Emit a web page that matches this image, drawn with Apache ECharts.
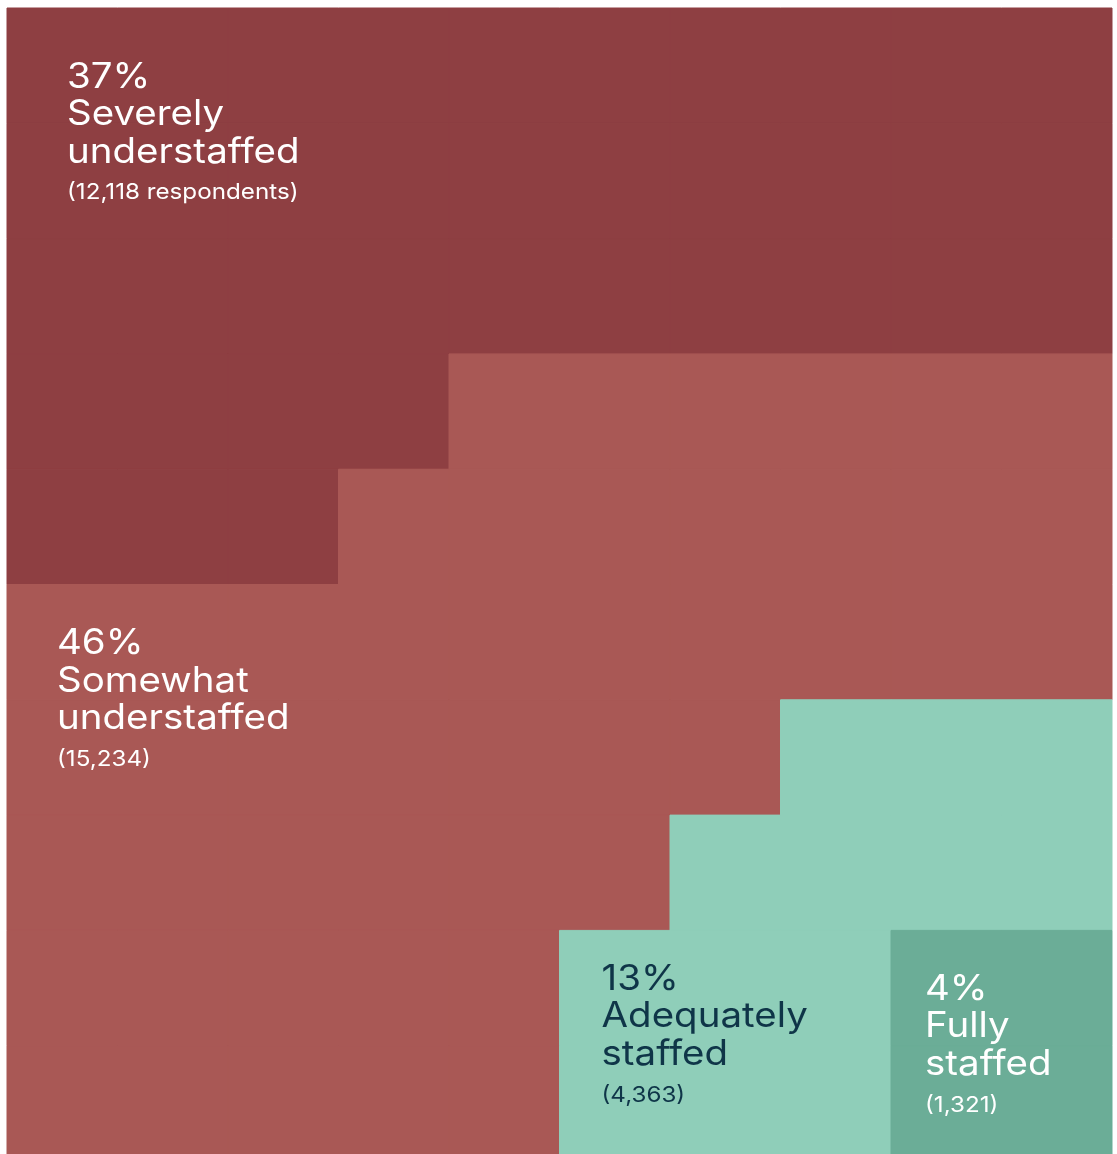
<!DOCTYPE html>
<html>
<head>
<meta charset="utf-8">
<title>Staffing levels</title>
<script src="https://cdn.jsdelivr.net/npm/echarts@6/dist/echarts.min.js"></script>
<style>
  html, body { margin: 0; padding: 0; background: #ffffff; overflow: hidden; }
  /* the bottom row runs slightly past the lower edge of the page */
  #chart { width: 1117px; height: 1161px; }
</style>
</head>
<body>
<div id="chart"></div>
<script>
// Share of respondents by staffing level, drawn as a 10 x 10 unit grid (1 cell = 1%)
const categories  = ['Severely understaffed', 'Somewhat understaffed', 'Adequately staffed', 'Fully staffed'];
const percents    = [37, 46, 13, 4];
const respondents = ['12,118 respondents', '15,234', '4,363', '1,321'];
const labelLines  = [
  ['Severely', 'understaffed'],
  ['Somewhat', 'understaffed'],
  ['Adequately', 'staffed'],
  ['Fully', 'staffed']
];
// Cells per category in each grid row, top to bottom (each row sums to 10, columns sum to percents)
const rowSevere   = [10, 10, 10, 4, 3, 0, 0, 0, 0, 0];
const rowSomewhat = [0, 0, 0, 6, 7, 10, 7, 6, 5, 5];
const rowAdequate = [0, 0, 0, 0, 0, 0, 3, 4, 3, 3];
const rowFully    = [0, 0, 0, 0, 0, 0, 0, 0, 2, 2];

const colors     = ['#8e3f42', '#a95855', '#8fceb9', '#6bad97'];
const textColors = ['#ffffff', '#ffffff', '#0f3548', '#ffffff'];
const GRID = 10;

// Lay each row out left to right, category by category
function buildCells() {
  const rows = [rowSevere, rowSomewhat, rowAdequate, rowFully];
  const cells = categories.map(() => []);
  for (let r = 0; r < GRID; r++) {
    let c = 0;
    rows.forEach((counts, k) => {
      for (let n = 0; n < counts[r]; n++) cells[k].push([c++, r]);
    });
  }
  return cells;
}
const cells = buildCells();

const chart = echarts.init(document.getElementById('chart'), null, { renderer: 'canvas' });

function renderCell(params, api) {
  const c = api.value(0), r = api.value(1);
  const p0 = api.coord([c, r]);
  const p1 = api.coord([c + 1, r + 1]);
  return {
    type: 'rect',
    shape: { x: p0[0], y: p0[1], width: p1[0] - p0[0], height: p1[1] - p0[1] },
    style: { fill: api.visual('color'), stroke: api.visual('color'), lineWidth: 1 }
  };
}

const series = categories.map((name, i) => ({
  type: 'custom',
  name: name,
  renderItem: renderCell,
  data: cells[i],
  itemStyle: { color: colors[i] },
  encode: { x: 0, y: 1 },
  silent: true,
  animation: false
}));

chart.setOption({
  animation: false,
  grid: { left: 7, top: 8, right: 5, bottom: 0 },
  xAxis: { type: 'value', min: 0, max: GRID, show: false },
  yAxis: { type: 'value', min: 0, max: GRID, inverse: true, show: false },
  series: series
});

// Text blocks: anchor cell (col, row) plus an inset in pixels to the first baseline
const labelAnchors = [[0, 0], [0, 5], [5, 8], [8, 8]];
const labelInsets  = [[60, 81], [50, 71], [42, 61], [34, 71]];
const FONT = 'Inter, "Open Sans", sans-serif';
const LINE = 37.5;
const WIDEN = 1.1;   // broaden the glyphs toward a geometric, wide-set face

const graphics = [];
categories.forEach((name, i) => {
  const base = chart.convertToPixel({ gridIndex: 0 }, labelAnchors[i]);
  const x = base[0] + labelInsets[i][0];
  const baseline = base[1] + labelInsets[i][1];
  const lines = [percents[i] + '%'].concat(labelLines[i]);
  lines.forEach((t, k) => {
    graphics.push({
      type: 'text', silent: true, z: 100,
      x: x, y: baseline + k * LINE - 12, scaleX: WIDEN,
      style: {
        text: t, fill: textColors[i], fontSize: 35, fontFamily: FONT,
        align: 'left', verticalAlign: 'middle'
      }
    });
  });
  graphics.push({
    type: 'text', silent: true, z: 100,
    x: x, y: baseline + 3 * LINE - 2 - 7, scaleX: WIDEN,
    style: {
      text: '(' + respondents[i] + ')', fill: textColors[i], fontSize: 22, fontFamily: FONT,
      align: 'left', verticalAlign: 'middle'
    }
  });
});
chart.setOption({ graphic: graphics });
</script>
</body>
</html>
